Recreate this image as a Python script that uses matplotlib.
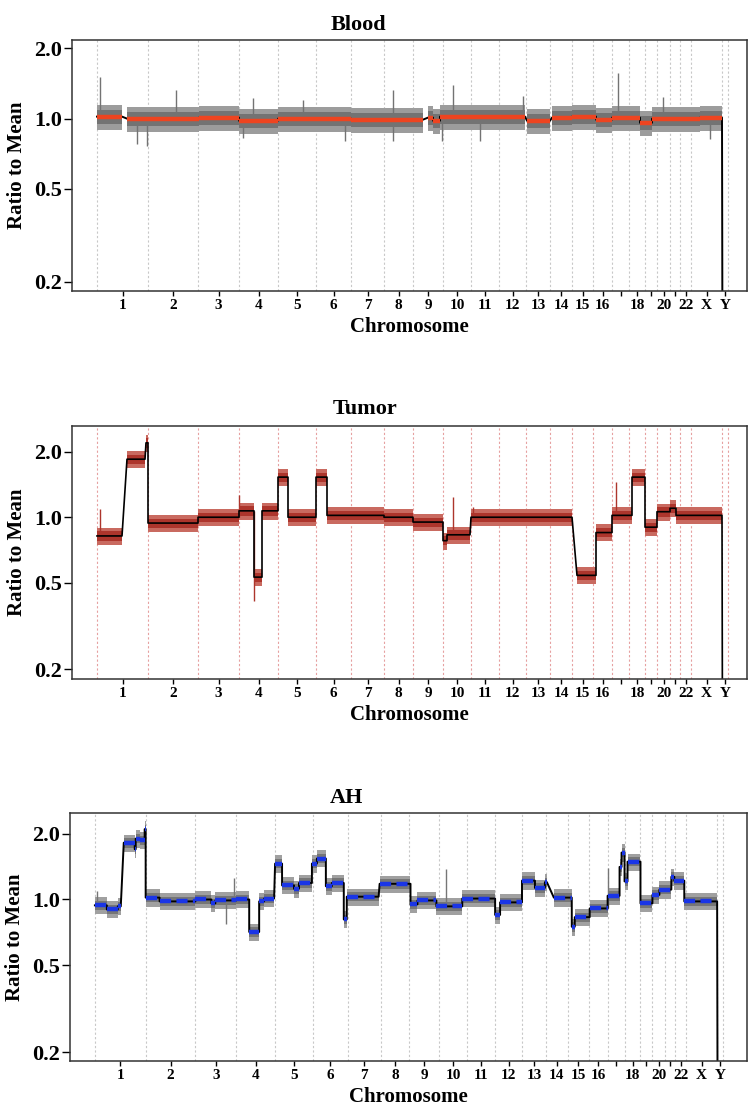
import numpy as np
import matplotlib.pyplot as plt

plt.rcParams['font.family'] = ['Liberation Serif', 'DejaVu Serif']
plt.rcParams['font.weight'] = 'bold'

# chromosome layout (widths, roughly Mb)
chrom_names = [str(i) for i in range(1, 23)] + ['X', 'Y']
chrom_len = [255, 250, 205, 195, 190, 175, 165, 145, 150, 140, 140, 135,
             120, 110, 105, 95, 85, 80, 60, 65, 50, 55, 155, 30]
hidden_labels = ['17', '19', '21']

# Blood: segment start / end (genome units) and ratio to mean
blood_start = [0, 150, 510, 710, 905, 1270, 1655, 1680, 1715, 2150, 2275,
               2375, 2495, 2575, 2715, 2775, 3015, 3128]
blood_end = [125, 510, 710, 905, 1270, 1630, 1680, 1715, 2140, 2265, 2375,
             2495, 2575, 2715, 2775, 3015, 3125, 3132]
blood_ratio = [1.02, 1.0, 1.01, 0.98, 1.0, 0.99, 1.01, 0.98, 1.02, 0.98, 1.01,
               1.02, 0.99, 1.01, 0.96, 1.0, 1.01, 0.05]
blood_spike_x = [15, 395, 780, 1030, 1480, 1780, 2130, 2605, 2830,
                 200, 250, 730, 1240, 1480, 1725, 1915, 3065]
blood_spike_y = [1.5, 1.32, 1.23, 1.2, 1.32, 1.39, 1.25, 1.56, 1.24,
                 0.78, 0.76, 0.83, 0.8, 0.8, 0.8, 0.8, 0.82]

# Tumor
tumor_start = [0, 150, 245, 255, 505, 710, 785, 825, 905, 955, 1095, 1150,
               1435, 1580, 1730, 1750, 1870, 2400, 2495, 2575, 2675, 2740,
               2800, 2865, 2895, 3128]
tumor_end = [125, 240, 255, 505, 710, 785, 825, 905, 955, 1095, 1150, 1435,
             1580, 1730, 1750, 1865, 2375, 2495, 2575, 2675, 2740, 2800,
             2865, 2895, 3125, 3132]
tumor_ratio = [0.82, 1.85, 2.2, 0.94, 1.0, 1.07, 0.53, 1.07, 1.53, 1.0, 1.53,
               1.02, 1.0, 0.95, 0.78, 0.83, 1.0, 0.54, 0.85, 1.02, 1.53, 0.9,
               1.06, 1.1, 1.02, 0.05]
tumor_spike_x = [15, 710, 785, 1780, 2595, 1880]
tumor_spike_y = [1.09, 1.27, 0.41, 1.24, 1.45, 1.12]

# AH
ah_start = [0, 60, 115, 145, 200, 205, 225, 250, 255, 325, 505, 585, 605,
            710, 775, 825, 850, 905, 940, 1000, 1025, 1090, 1115, 1160, 1190,
            1250, 1265, 1430, 1585, 1620, 1715, 1845, 2010, 2035, 2145, 2210,
            2260, 2305, 2395, 2410, 2485, 2575, 2635, 2645, 2660, 2675, 2740,
            2800, 2835, 2895, 2910, 2960, 3128]
ah_end = [60, 115, 130, 200, 205, 225, 250, 255, 325, 505, 585, 605, 710,
          775, 825, 850, 900, 940, 1000, 1025, 1090, 1115, 1160, 1190, 1250,
          1265, 1425, 1585, 1620, 1715, 1845, 2010, 2035, 2145, 2210, 2260,
          2270, 2395, 2410, 2485, 2575, 2635, 2645, 2660, 2675, 2740, 2800,
          2835, 2895, 2910, 2960, 3125, 3132]
ah_ratio = [0.94, 0.9, 0.93, 1.82, 1.7, 1.9, 1.87, 2.1, 1.02, 0.98, 1.0, 0.96,
            0.99, 1.0, 0.71, 0.98, 1.01, 1.46, 1.16, 1.12, 1.19, 1.46, 1.54,
            1.15, 1.19, 0.81, 1.03, 1.18, 0.95, 0.99, 0.93, 1.01, 0.85, 0.97,
            1.22, 1.13, 1.2, 1.02, 0.75, 0.83, 0.91, 1.04, 1.41, 1.64, 1.21,
            1.49, 0.96, 1.05, 1.11, 1.27, 1.22, 0.98, 0.05]
ah_spike_x = [10, 660, 700, 1765, 2575]
ah_spike_y = [1.09, 0.77, 1.26, 1.38, 1.4]

yticks = [0.2, 0.5, 1.0, 2.0]
ytick_labels = ['0.2', '0.5', '1.0', '2.0']

bounds = np.concatenate([[0], np.cumsum(chrom_len)])
centers = (bounds[:-1] + bounds[1:]) / 2
xtick_labels = ['' if c in hidden_labels else c for c in chrom_names]

panels = [
    dict(title='Blood', rect=[72 / 749, 1 - 291 / 1109, 675 / 749, 251 / 1109],
         ylim=(0.183, 2.17), xlim=(-125, 3250), title_x=0.425, pad=7,
         start=blood_start, end=blood_end, ratio=blood_ratio, spread=0.12,
         sx=blood_spike_x, sy=blood_spike_y,
         outer='#9c9c9c', inner='#737373', grid='#c8c8c8',
         level='#ee4420', level_ls='-', seg_lw=1.4),
    dict(title='Tumor', rect=[72 / 749, 1 - 679 / 1109, 675 / 749, 253 / 1109],
         ylim=(0.18, 2.63), xlim=(-125, 3250), title_x=0.434, pad=9,
         start=tumor_start, end=tumor_end, ratio=tumor_ratio, spread=0.09,
         sx=tumor_spike_x, sy=tumor_spike_y,
         outer='#c96a60', inner='#ad352c', grid='#e6a0a0',
         level=None, level_ls='-', seg_lw=1.2),
    dict(title='AH', rect=[70 / 749, 1 - 1061 / 1109, 677 / 749, 248 / 1109],
         ylim=(0.182, 2.49), xlim=(-125, 3275), title_x=0.408, pad=7,
         start=ah_start, end=ah_end, ratio=ah_ratio, spread=0.09,
         sx=ah_spike_x, sy=ah_spike_y,
         outer='#a0a0a0', inner='#767676', grid='#c8c8c8',
         level='#1a35e6', level_ls=(0, (2.5, 1.2)), seg_lw=1.4),
]

fig = plt.figure(figsize=(7.49, 11.09), dpi=100)

for p in panels:
    ax = fig.add_axes(p['rect'])
    ax.set_yscale('log')

    for b in bounds:
        ax.axvline(b, color=p['grid'], lw=0.8, ls=(0, (2, 2)), zorder=0)

    # noisy bins shown as a band around each segment
    sp_ = p['spread']
    for s, e, r in zip(p['start'], p['end'], p['ratio']):
        if r < 0.1:
            continue
        ax.fill_between([s, e], r * (1 - sp_), r * (1 + sp_),
                        color=p['outer'], linewidth=0, zorder=1)
        ax.fill_between([s, e], r * (1 - sp_ * 0.55), r * (1 + sp_ * 0.55),
                        color=p['inner'], linewidth=0, zorder=1)

    # outlier bins
    for x, y in zip(p['sx'], p['sy']):
        i = np.searchsorted(p['end'], x)
        ax.vlines(x, p['ratio'][i], y, color=p['inner'], lw=1, zorder=1)

    # segmentation line
    xs, ys = [], []
    for s, e, r in zip(p['start'], p['end'], p['ratio']):
        xs += [s, e]
        ys += [r, r]
    ax.plot(xs, ys, color='black', lw=p['seg_lw'], zorder=2)
    if p['level'] is not None:
        ax.hlines(p['ratio'][:-1], p['start'][:-1], p['end'][:-1],
                  color=p['level'], lw=3.2, ls=p['level_ls'], zorder=3)

    ax.set_xlim(p['xlim'])
    ax.set_ylim(p['ylim'])
    ax.set_yticks(yticks)
    ax.set_yticklabels(ytick_labels, fontsize=16)
    ax.minorticks_off()
    ax.set_xticks(centers)
    ax.set_xticklabels(xtick_labels, fontsize=11)
    ax.tick_params(axis='y', length=6, width=1, pad=1)
    ax.tick_params(axis='x', length=3.5, width=1, pad=2)
    for spine in ax.spines.values():
        spine.set_linewidth(1.1)
        spine.set_color('#333333')

    ax.set_ylabel('Ratio to Mean', fontsize=15, fontweight='bold')
    ax.yaxis.set_label_coords(-0.066, 0.5)
    ax.set_xlabel('Chromosome', fontsize=15, fontweight='bold', labelpad=4)
    ax.set_title(p['title'], fontsize=16, fontweight='bold', x=p['title_x'],
                 pad=p['pad'])

fig.savefig('out.png', dpi=100)
